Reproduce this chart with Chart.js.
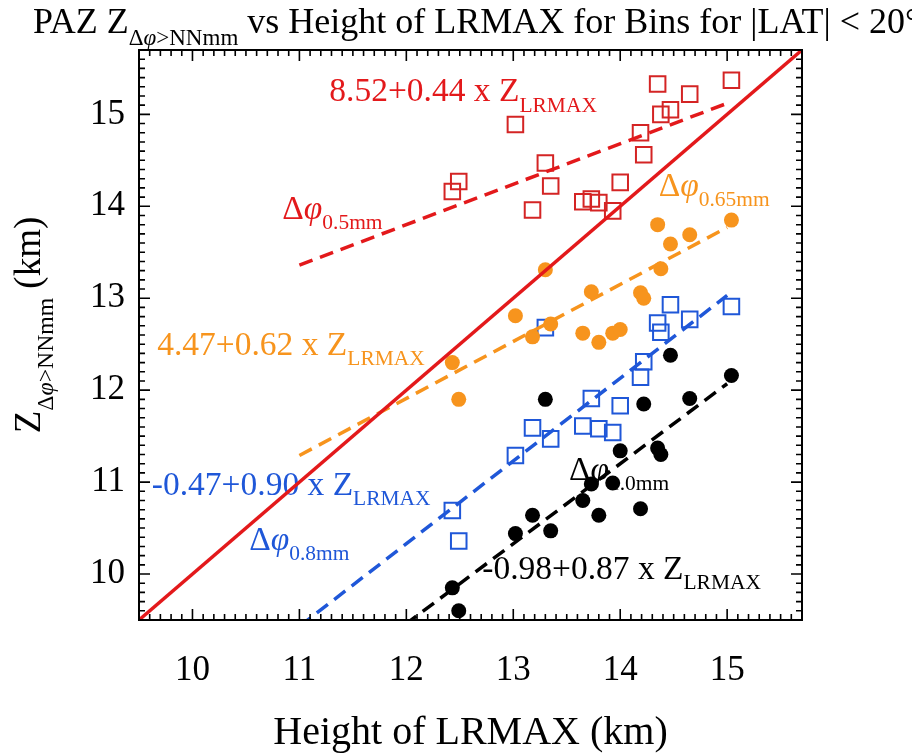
<!DOCTYPE html>
<html lang="en">
<head>
<meta charset="UTF-8">
<title>PAZ Z vs Height of LRMAX</title>
<style>
  html, body { margin: 0; padding: 0; background: #fff; }
  #wrap { width: 912px; height: 755px; }
</style>
</head>
<body>
<div id="wrap"><canvas id="myChart" width="912" height="755"></canvas></div>
<script src="https://cdn.jsdelivr.net/npm/chart.js"></script>
<script>
// LRMAX height of each bin (km), shared by all four thresholds
const lrmax = [12.43, 12.49, 13.02, 13.18, 13.30, 13.35, 13.65, 13.73, 13.80, 13.93, 14.00, 14.19, 14.22, 14.35, 14.38, 14.47, 14.65, 15.04];

// Z(dphi > NN mm) per bin (km)
const z05  = [14.16, 14.27, 14.89, 13.96, 14.47, 14.22, 14.05, 14.08, 14.04, 13.95, 14.26, 14.80, 14.56, 15.33, 15.00, 15.05, 15.22, 15.37];
const z065 = [12.30, 11.90, 12.81, 12.58, 13.31, 12.72, 12.62, 13.07, 12.52, 12.62, 12.66, 13.06, 13.00, 13.80, 13.32, 13.59, 13.69, 13.85];
const z08  = [10.69, 10.36, 11.29, 11.59, 12.68, 11.47, 11.61, 11.91, 11.58, 11.54, 11.83, 12.14, 12.31, 12.73, 12.63, 12.93, 12.77, 12.91];
const z10  = [9.85, 9.60, 10.44, 10.64, 11.90, 10.47, 10.80, 10.98, 10.64, 10.99, 11.34, 10.71, 11.85, 11.37, 11.30, 12.38, 11.91, 12.16];

// linear fits Z = a + b * Z_LRMAX, drawn over 11..15 km
const fitA = [8.52, 4.47, -0.47, -0.98];
const fitB = [0.44, 0.62, 0.90, 0.87];
const fitRange = [11, 15];

// axis limits (both axes) and the 1:1 line
const axisRange = [9.5, 15.7];

const RED = '#e3191b', ORANGE = '#f7941d', BLUE = '#1f57d8', BLACK = '#000000';
const SERIF = '"Liberation Serif", "Times New Roman", serif';

const pts = ys => lrmax.map((x, i) => ({ x: x, y: ys[i] }));
const fit = k => fitRange.map(x => ({ x: x, y: fitA[k] + fitB[k] * x }));
const isInt = v => Math.abs(v - Math.round(v)) < 1e-6;

// text with italic / subscript runs: parts = [[text, flags]], flags 'i' italic, 's' subscript
function richWidth(ctx, parts, size) {
  let w = 0;
  for (const [t, k] of parts) {
    const fs = k.includes('s') ? size * 0.64 : size;
    ctx.font = (k.includes('i') ? 'italic ' : '') + fs + 'px ' + SERIF;
    w += ctx.measureText(t).width;
  }
  return w;
}
function drawRich(ctx, x, y, parts, size, color, subDrop) {
  let cx = x;
  ctx.fillStyle = color;
  ctx.textAlign = 'left';
  ctx.textBaseline = 'alphabetic';
  for (const [t, k] of parts) {
    const sub = k.includes('s');
    const fs = sub ? size * 0.64 : size;
    ctx.font = (k.includes('i') ? 'italic ' : '') + fs + 'px ' + SERIF;
    ctx.fillText(t, cx, y + (sub ? size * (subDrop || 0.3) : 0));
    cx += ctx.measureText(t).width;
  }
}

const eq = (a, b) => [[a + '+' + b + ' x Z', ''], ['LRMAX', 's']];
const dphi = s => [['\u0394', ''], ['\u03C6', 'i'], [s, 's']];

// labels placed in data coordinates
const notes = [
  { x: 11.28, y: 15.14, parts: eq('8.52', '0.44'), color: RED },
  { x: 10.84, y: 13.86, parts: dphi('0.5mm'), color: RED },
  { x: 14.36, y: 14.11, parts: dphi('0.65mm'), color: ORANGE },
  { x: 9.67, y: 12.38, parts: eq('4.47', '0.62'), color: ORANGE },
  { x: 9.62, y: 10.86, parts: eq('-0.47', '0.90'), color: BLUE },
  { x: 10.53, y: 10.26, parts: dphi('0.8mm'), color: BLUE },
  { x: 13.52, y: 11.02, parts: dphi('1.0mm'), color: BLACK },
  { x: 12.71, y: 9.95, parts: eq('-0.98', '0.87'), color: BLACK }
];

const decor = {
  id: 'decor',
  beforeDatasetsDraw(chart) {
    const { ctx, scales: { x, y } } = chart;
    ctx.save();
    notes.forEach(n => drawRich(ctx, x.getPixelForValue(n.x), y.getPixelForValue(n.y), n.parts, 33.5, n.color));
    ctx.restore();
  },
  afterDraw(chart) {
    const { ctx, chartArea: a, scales: { x, y } } = chart;
    ctx.save();
    // frame
    ctx.strokeStyle = '#000';
    ctx.lineWidth = 2;
    ctx.strokeRect(a.left, a.top, a.right - a.left, a.bottom - a.top);
    // inward ticks on all four sides
    ctx.lineWidth = 1.6;
    ctx.beginPath();
    x.ticks.forEach(t => {
      const px = x.getPixelForValue(t.value), len = isInt(t.value) ? 11 : 6;
      ctx.moveTo(px, a.bottom); ctx.lineTo(px, a.bottom - len);
      ctx.moveTo(px, a.top); ctx.lineTo(px, a.top + len);
    });
    y.ticks.forEach(t => {
      const py = y.getPixelForValue(t.value), len = isInt(t.value) ? 11 : 6;
      ctx.moveTo(a.left, py); ctx.lineTo(a.left + len, py);
      ctx.moveTo(a.right, py); ctx.lineTo(a.right - len, py);
    });
    ctx.stroke();

    // title
    drawRich(ctx, 33, 33, [['PAZ Z', ''], ['\u0394', 's'], ['\u03C6', 'si'], ['>NNmm', 's'],
      [' vs Height of LRMAX for Bins for |LAT| < 20\u00B0', '']], 36, '#000', 0.34);

    // x axis title
    const xt = [['Height of LRMAX (km)', '']];
    drawRich(ctx, (a.left + a.right) / 2 - richWidth(ctx, xt, 40) / 2, 744, xt, 40, '#000');

    // y axis title, rotated
    const yt = [['Z', ''], ['\u0394', 's'], ['\u03C6', 'si'], ['>NNmm', 's'], [' (km)', '']];
    ctx.translate(40, 325);
    ctx.rotate(-Math.PI / 2);
    drawRich(ctx, -richWidth(ctx, yt, 37) / 2, 0, yt, 37, '#000', 0.34);
    ctx.restore();
  }
};

const tickCfg = {
  stepSize: 0.1,
  autoSkip: false,
  maxRotation: 0,
  color: '#000',
  font: { family: SERIF, size: 35 },
  callback: v => isInt(v) ? String(Math.round(v)) : ''
};

const dash = [14, 8];

new Chart(document.getElementById('myChart'), {
  type: 'scatter',
  data: {
    datasets: [
      { data: [{ x: axisRange[0], y: axisRange[0] }, { x: axisRange[1], y: axisRange[1] }],
        showLine: true, borderColor: RED, borderWidth: 3.5, pointRadius: 0, order: 0 },
      { data: fit(3), showLine: true, borderColor: BLACK, borderWidth: 3.5, borderDash: dash, pointRadius: 0, order: 1 },
      { data: pts(z10), pointStyle: 'circle', pointRadius: 7.5, backgroundColor: BLACK, borderWidth: 0, order: 2 },
      { data: fit(1), showLine: true, borderColor: ORANGE, borderWidth: 3.5, borderDash: dash, pointRadius: 0, order: 3 },
      { data: pts(z065), pointStyle: 'circle', pointRadius: 7.5, backgroundColor: ORANGE, borderWidth: 0, order: 4 },
      { data: fit(2), showLine: true, borderColor: BLUE, borderWidth: 3.5, borderDash: dash, pointRadius: 0, order: 5 },
      { data: fit(0), showLine: true, borderColor: RED, borderWidth: 3.5, borderDash: dash, pointRadius: 0, order: 6 },
      { data: pts(z08), pointStyle: 'rect', pointRadius: 11, borderColor: BLUE, backgroundColor: 'rgba(0,0,0,0)', borderWidth: 2, order: 7 },
      { data: pts(z05), pointStyle: 'rect', pointRadius: 11, borderColor: '#d42424', backgroundColor: 'rgba(0,0,0,0)', borderWidth: 2, order: 8 }
    ]
  },
  options: {
    responsive: false,
    animation: false,
    events: [],
    layout: { padding: { top: 50, right: 110, left: 0, bottom: 0 } },
    plugins: { legend: { display: false }, tooltip: { enabled: false } },
    scales: {
      x: {
        type: 'linear', min: axisRange[0], max: axisRange[1],
        grid: { display: false, drawTicks: false },
        border: { display: false },
        ticks: Object.assign({ padding: 30 }, tickCfg),
        afterFit: s => { s.height = 135; }
      },
      y: {
        type: 'linear', min: axisRange[0], max: axisRange[1],
        grid: { display: false, drawTicks: false },
        border: { display: false },
        ticks: Object.assign({ padding: 14 }, tickCfg),
        afterFit: s => { s.width = 139; }
      }
    }
  },
  plugins: [decor]
});
</script>
</body>
</html>
